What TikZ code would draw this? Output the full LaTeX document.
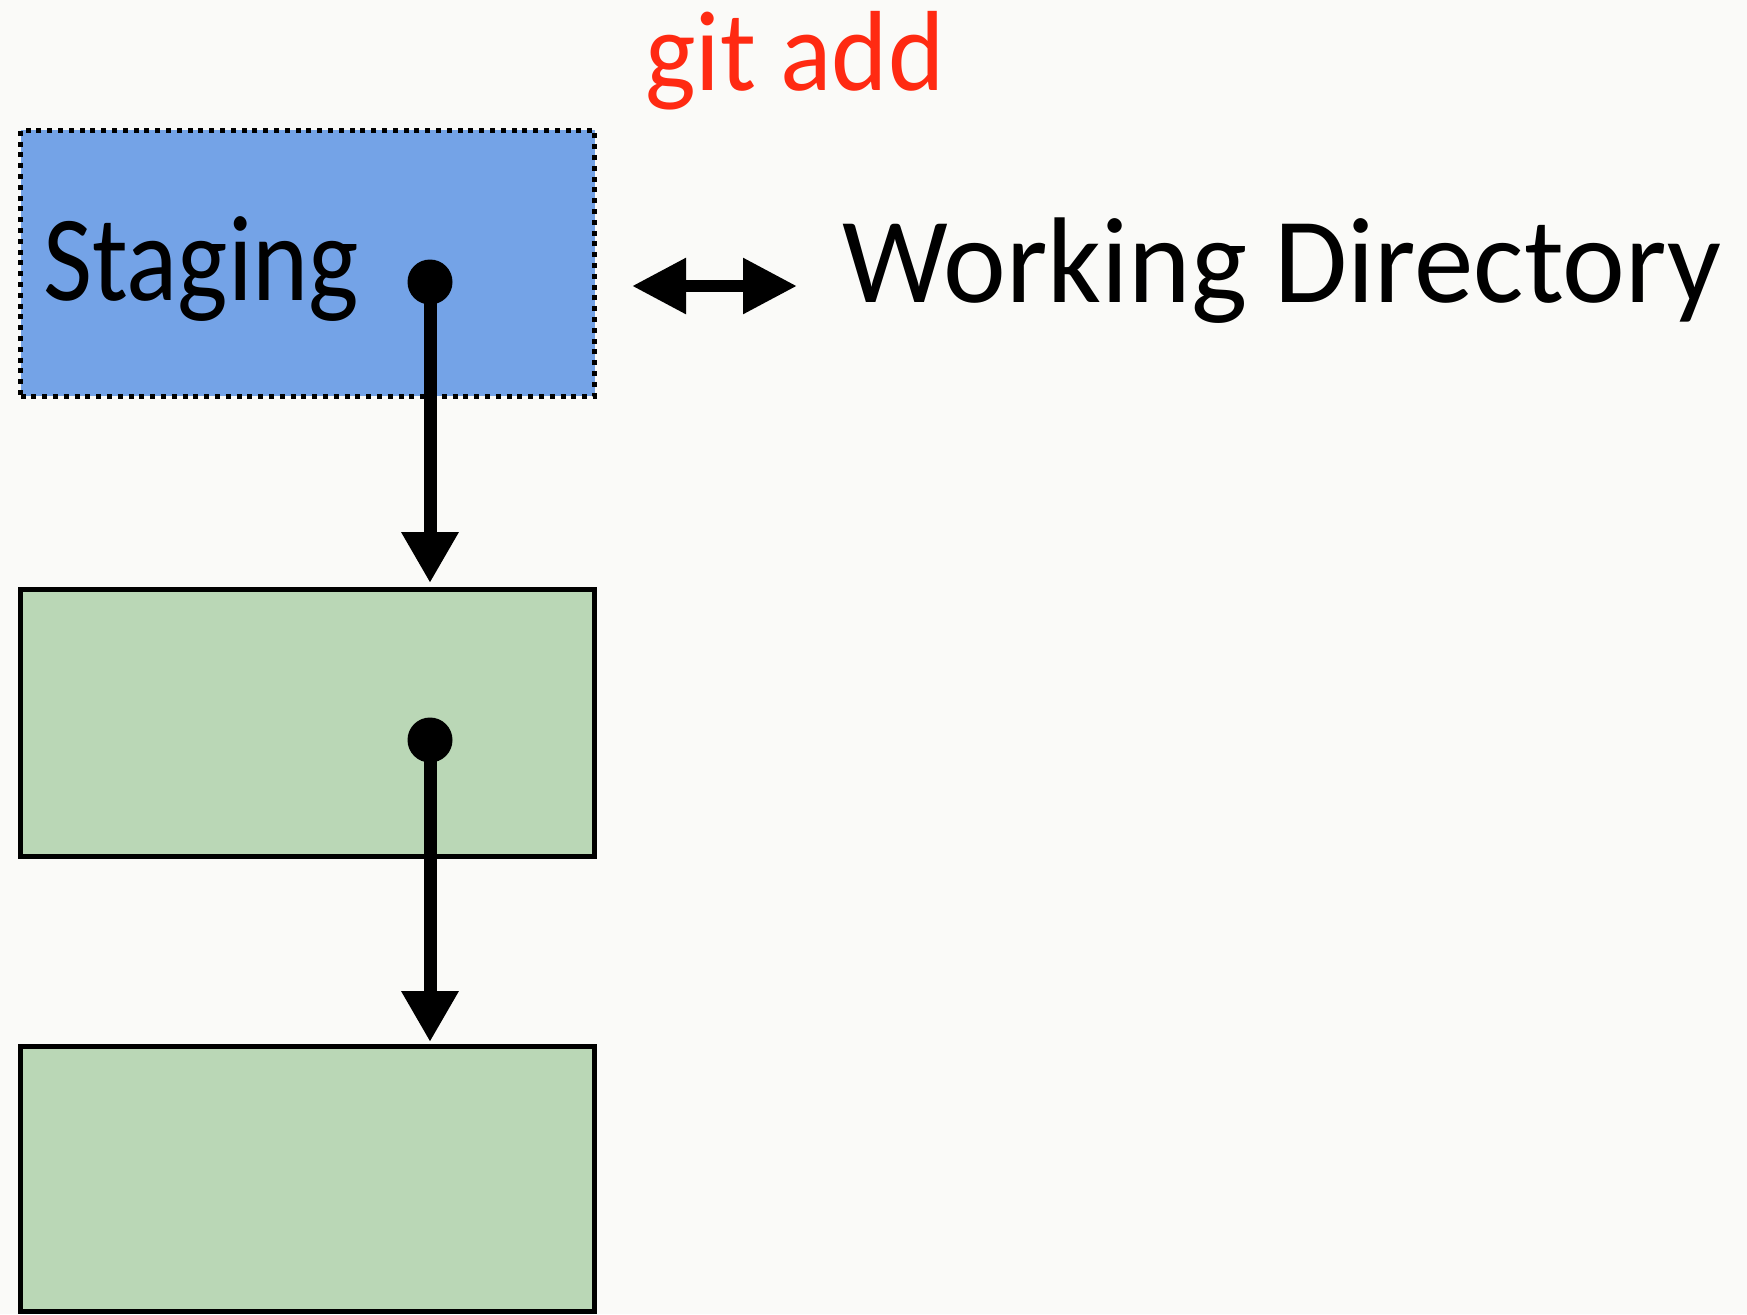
\documentclass[tikz,border=0pt]{standalone}
\usepackage{fontspec}
\setmainfont{Carlito}
\usetikzlibrary{arrows.meta}
\definecolor{bgc}{HTML}{FAFAF8}
\definecolor{stageblue}{HTML}{74A3E7}
\definecolor{commitgreen}{HTML}{BAD7B6}
\definecolor{cmdred}{HTML}{FF2A12}
\tikzset{
  box/.style={draw=black, line width=2.5pt, minimum width=287pt, inner sep=0pt, outer sep=0pt},
  stagebox/.style={box, fill=stageblue, dash pattern=on 2.5pt off 2.9pt},
  commitbox/.style={box, fill=commitgreen},
  pin/.style={circle, fill=black, draw=none, minimum size=22.5pt, inner sep=0pt},
  label/.style={anchor=base west, inner sep=0pt, font=\fontsize{61}{61}\selectfont},
  link/.style={line width=6.5pt, -{Triangle[length=25.5pt,width=27pt]}},
}
\begin{document}
\begin{tikzpicture}[x=0.5pt,y=-0.5pt]
\fill[bgc] (0,0) rectangle (1747,1314);
\useasboundingbox (0,0) rectangle (1747,1314);
\node[stagebox, minimum height=133pt] (stage) at (307.5,263) {};
\node[commitbox, minimum height=133.5pt] (c1) at (307.5,722.5) {};
\node[commitbox, minimum height=132.25pt] (c2) at (307.5,1178.75) {};
\node[label, xscale=0.875] (stagetxt) at (43,300) {Staging};
\node[label, xscale=0.975] (wd) at (842,302) {Working Directory};
\node[label, text=cmdred, xscale=0.94, font=\fontsize{57}{57}\selectfont] (gitadd) at (645,90) {git add};
\node[pin] (p1) at (430,282) {};
\node[pin] (p2) at (430,740) {};
\coordinate (t1) at (430,583);
\coordinate (t2) at (430,1042);
\draw[link] (p1.center) -- (t1);
\draw[link] (p2.center) -- (t2);
\coordinate (dl) at (632,286);
\coordinate (dr) at (797,286);
\draw[line width=6pt, {Triangle[length=27pt,width=26.5pt]}-{Triangle[length=27pt,width=26.5pt]}] (dl) -- (dr);
\end{tikzpicture}
\end{document}
